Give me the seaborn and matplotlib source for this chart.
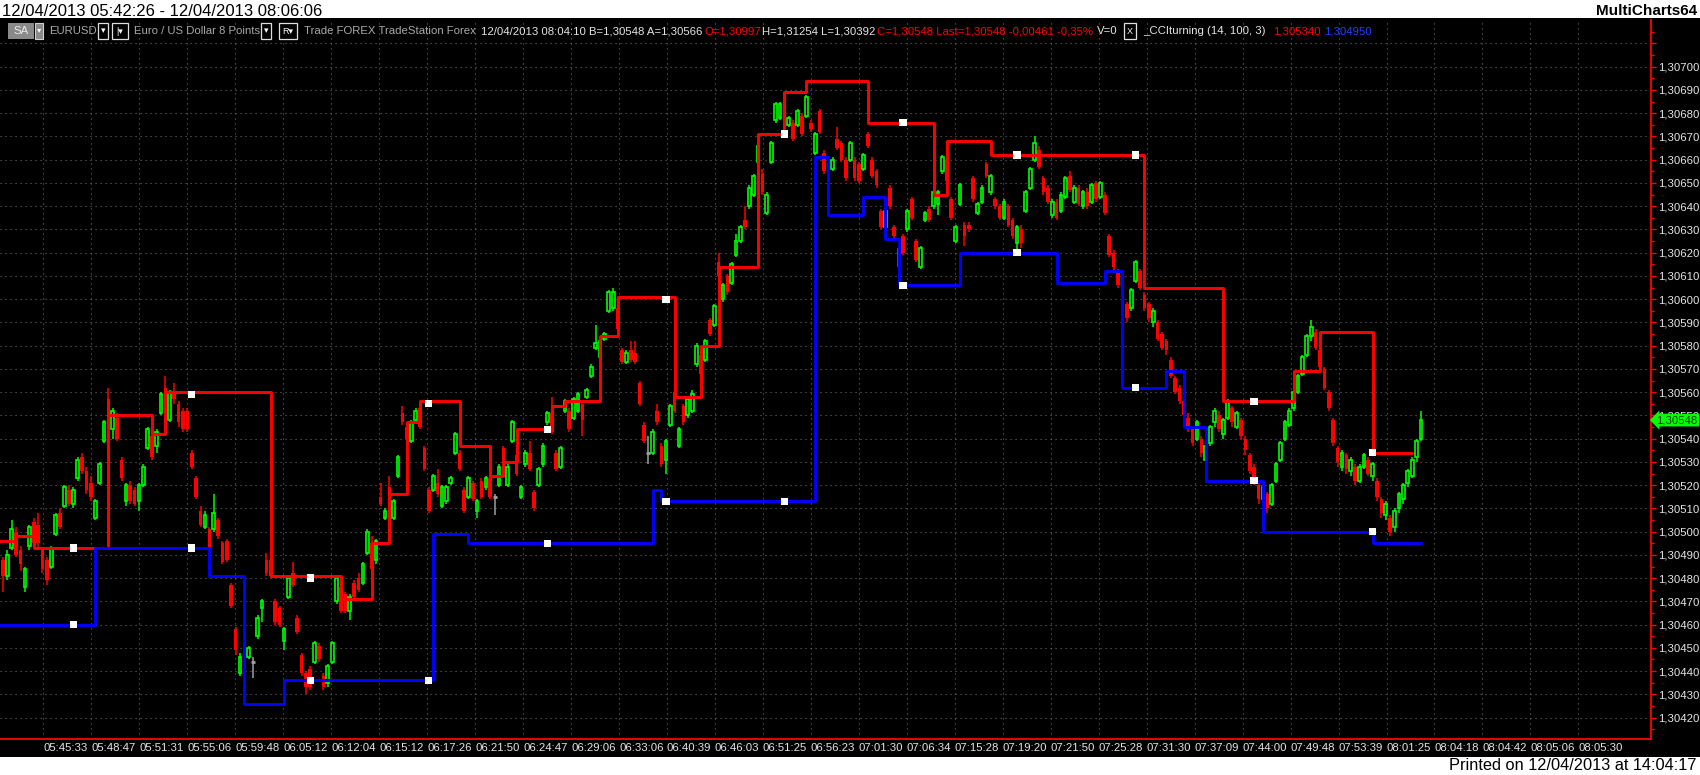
import matplotlib
matplotlib.use('Agg')
import matplotlib.pyplot as plt
from matplotlib.patches import Rectangle
import seaborn as sns
import pandas as pd
import numpy as np

sns.set_style('ticks')
plt.rcParams['font.family'] = ['Liberation Sans', 'DejaVu Sans']

# EURUSD 8 Points bars, prices as 1e-5 steps above 1.30000
bar_open = [
    488, 481, 493, 500, 492, 476, 494, 504, 503, 492,
    488, 485, 499, 508, 511, 518, 512, 523, 532, 526,
    521, 506, 521, 539, 557, 544, 549, 531, 513, 520,
    518, 513, 520, 536, 541, 537, 551, 562, 548, 560,
    555, 552, 552, 534, 523, 509, 502, 501, 501, 505,
    495, 496, 477, 458, 439, 448, 446, 444, 455, 467,
    488, 488, 470, 467, 453, 472, 482, 463, 447, 439,
    441, 444, 451, 438, 435, 444, 470, 476, 473, 466,
    478, 480, 478, 491, 495, 488, 515, 506, 519, 506,
    524, 551, 545, 539, 548, 553, 536, 518, 518, 521,
    511, 513, 521, 534, 534, 518, 515, 521, 509, 522,
    519, 523, 515, 520, 536, 520, 539, 533, 515, 529,
    534, 517, 520, 529, 547, 551, 534, 528, 552, 552,
    549, 552, 555, 558, 567, 579, 575, 583, 595, 596,
    596, 578, 573, 578, 577, 564, 546, 534, 534, 552,
    537, 531, 546, 560, 537, 554, 550, 552, 572, 576,
    574, 591, 589, 616, 600, 610, 607, 619, 625, 634,
    640, 645, 659, 654, 637, 659, 677, 678, 685, 675,
    676, 675, 679, 679, 676, 663, 681, 663, 648, 656,
    669, 667, 660, 660, 660, 658, 656, 671, 660, 655,
    638, 631, 648, 631, 622, 627, 630, 643, 625, 614,
    634, 639, 640, 641, 655, 660, 643, 625, 641, 632,
    632, 652, 637, 642, 658, 646, 643, 640, 635, 640,
    634, 624, 630, 638, 648, 660, 664, 652, 648, 636,
    642, 638, 644, 653, 642, 648, 640, 646, 642, 650,
    644, 645, 627, 620, 612, 610, 598, 596, 608, 612,
    602, 598, 590, 590, 585, 582, 574, 566, 562, 556,
    549, 544, 540, 540, 531, 538, 547, 550, 542, 549,
    553, 545, 548, 540, 533, 528, 520, 514, 516, 512,
    522, 531, 540, 546, 553, 560, 568, 576, 584, 586,
    578, 570, 560, 548, 536, 528, 533, 526, 528, 522,
    528, 531, 524, 522, 514, 507, 506, 502, 510, 514,
    521, 524, 532, 540,
]
bar_close = [
    481, 490, 501, 490, 486, 484, 502, 495, 495, 484,
    479, 493, 507, 502, 519, 512, 518, 531, 526, 518,
    515, 513, 529, 547, 549, 552, 540, 523, 520, 513,
    512, 520, 528, 544, 532, 543, 559, 558, 560, 557,
    547, 544, 544, 528, 515, 503, 507, 493, 508, 498,
    487, 488, 468, 449, 446, 442, 450, 444, 463, 470,
    482, 481, 461, 460, 458, 480, 477, 457, 439, 433,
    433, 452, 445, 433, 442, 452, 480, 466, 466, 472,
    472, 475, 486, 500, 484, 496, 512, 509, 515, 513,
    532, 547, 540, 547, 552, 545, 527, 509, 524, 516,
    519, 519, 523, 542, 527, 509, 523, 514, 513, 515,
    523, 515, 515, 528, 530, 528, 547, 525, 519, 534,
    527, 510, 527, 537, 551, 543, 527, 536, 556, 544,
    557, 559, 548, 561, 571, 581, 582, 585, 603, 603,
    587, 573, 577, 574, 573, 555, 539, 534, 543, 547,
    529, 539, 554, 552, 544, 547, 557, 559, 580, 568,
    582, 585, 597, 610, 606, 603, 615, 625, 631, 631,
    648, 653, 666, 646, 645, 667, 684, 684, 679, 678,
    669, 681, 671, 687, 673, 671, 672, 655, 640, 660,
    665, 660, 652, 667, 652, 651, 662, 666, 653, 649,
    631, 638, 640, 627, 614, 620, 638, 635, 617, 622,
    637, 634, 646, 646, 661, 651, 635, 631, 649, 627,
    630, 643, 641, 648, 653, 653, 640, 635, 642, 632,
    627, 631, 624, 646, 656, 667, 657, 646, 642, 642,
    635, 645, 652, 647, 648, 641, 646, 640, 649, 643,
    650, 637, 619, 614, 606, 603, 592, 604, 616, 605,
    596, 592, 595, 583, 579, 578, 567, 560, 556, 550,
    545, 538, 547, 534, 537, 545, 552, 544, 548, 556,
    547, 551, 541, 535, 526, 522, 514, 519, 510, 520,
    529, 538, 547, 552, 560, 567, 575, 584, 588, 579,
    571, 562, 553, 538, 530, 534, 527, 531, 522, 528,
    533, 525, 529, 515, 508, 512, 500, 509, 516, 520,
    526, 531, 539, 548,
]
bar_high = [
    489, 492, 505, 502, 494, 485, 503, 506, 508, 493,
    489, 494, 508, 510, 520, 520, 519, 532, 534, 528,
    524, 514, 530, 548, 562, 553, 551, 532, 521, 522,
    519, 521, 529, 545, 542, 544, 560, 567, 561, 564,
    556, 553, 553, 535, 524, 511, 509, 502, 516, 506,
    496, 497, 478, 459, 448, 449, 451, 446, 464, 471,
    491, 489, 471, 468, 459, 481, 487, 464, 448, 440,
    442, 453, 452, 439, 443, 453, 481, 478, 474, 473,
    479, 482, 487, 501, 498, 497, 521, 510, 524, 514,
    533, 554, 546, 548, 553, 556, 537, 519, 525, 527,
    520, 520, 524, 543, 535, 519, 524, 522, 514, 523,
    524, 524, 516, 529, 537, 529, 548, 534, 520, 535,
    539, 518, 528, 538, 552, 558, 535, 537, 557, 553,
    558, 560, 556, 562, 572, 589, 583, 586, 604, 605,
    597, 579, 578, 582, 582, 565, 547, 541, 544, 555,
    538, 540, 555, 561, 545, 555, 558, 561, 581, 578,
    583, 592, 598, 620, 607, 611, 616, 628, 632, 640,
    649, 654, 667, 656, 646, 668, 685, 685, 689, 679,
    677, 682, 680, 688, 677, 672, 682, 664, 649, 661,
    674, 668, 661, 668, 661, 659, 663, 672, 661, 656,
    639, 639, 649, 632, 623, 628, 639, 644, 626, 623,
    638, 640, 647, 647, 662, 668, 644, 632, 650, 633,
    633, 653, 642, 649, 659, 654, 644, 641, 643, 641,
    635, 632, 632, 647, 657, 670, 666, 653, 649, 643,
    643, 646, 653, 655, 649, 649, 647, 648, 650, 651,
    651, 646, 628, 621, 613, 611, 599, 605, 617, 613,
    603, 599, 596, 591, 586, 583, 575, 567, 563, 557,
    551, 545, 548, 541, 538, 546, 553, 552, 549, 557,
    554, 552, 549, 541, 534, 529, 521, 520, 517, 521,
    530, 539, 548, 553, 561, 568, 576, 585, 591, 587,
    579, 571, 561, 549, 537, 535, 534, 532, 529, 529,
    534, 532, 530, 523, 515, 513, 507, 510, 517, 521,
    527, 532, 540, 552,
]
bar_low = [
    474, 479, 492, 489, 483, 474, 492, 494, 493, 482,
    477, 484, 498, 501, 510, 511, 510, 522, 525, 516,
    513, 505, 520, 538, 548, 540, 539, 522, 511, 512,
    511, 509, 519, 535, 531, 534, 550, 557, 547, 555,
    545, 543, 543, 527, 514, 502, 501, 492, 500, 497,
    486, 487, 467, 447, 438, 441, 445, 437, 454, 461,
    481, 480, 460, 459, 449, 471, 476, 456, 438, 430,
    432, 443, 444, 432, 433, 443, 469, 465, 465, 462,
    471, 474, 477, 490, 483, 486, 511, 505, 514, 505,
    523, 546, 539, 538, 547, 544, 526, 508, 517, 515,
    510, 512, 520, 533, 526, 508, 514, 513, 506, 514,
    518, 514, 507, 519, 529, 519, 538, 524, 514, 528,
    526, 509, 519, 528, 546, 542, 526, 527, 551, 543,
    548, 551, 541, 557, 566, 578, 574, 582, 594, 595,
    586, 572, 572, 573, 572, 554, 538, 529, 533, 546,
    528, 525, 545, 551, 536, 546, 549, 551, 571, 567,
    573, 584, 588, 609, 599, 602, 606, 618, 624, 630,
    639, 644, 658, 645, 636, 658, 676, 677, 677, 674,
    668, 674, 670, 678, 672, 662, 671, 654, 639, 655,
    664, 659, 651, 659, 651, 650, 655, 665, 652, 648,
    630, 630, 639, 626, 613, 619, 629, 634, 616, 613,
    633, 633, 639, 636, 654, 650, 634, 624, 640, 623,
    629, 642, 636, 641, 652, 645, 639, 634, 634, 631,
    626, 621, 622, 637, 647, 659, 656, 645, 641, 635,
    634, 637, 643, 646, 641, 640, 639, 639, 641, 642,
    643, 636, 618, 612, 605, 602, 590, 595, 607, 604,
    595, 590, 588, 582, 578, 576, 566, 559, 555, 549,
    543, 537, 539, 532, 529, 537, 545, 543, 540, 548,
    545, 544, 540, 533, 525, 520, 512, 511, 508, 511,
    521, 530, 539, 545, 552, 559, 567, 575, 582, 578,
    570, 561, 552, 537, 528, 526, 525, 524, 520, 521,
    527, 524, 522, 513, 506, 505, 498, 500, 508, 512,
    519, 523, 530, 539,
]

# _CCIturning (14, 100, 3): bar where each level starts, and the level
red_start = [-1, 3, 7, 24, 34, 37, 61, 77, 84, 88,
             92, 95, 104, 111, 114, 117, 125, 128, 136, 140,
             153, 159, 163, 172, 178, 183, 197, 212, 215, 225,
             260, 278, 294, 300, 312]
red_level = [496, 498, 493, 550, 542, 560, 481, 471, 495, 516,
             547, 556, 537, 524, 530, 544, 554, 556, 584, 601,
             558, 580, 614, 671, 689, 694, 676, 645, 668, 662,
             605, 556, 569, 586, 534]
red_end = 321
blue_start = [-1, 21, 47, 55, 64, 98, 106, 148, 150, 185,
              188, 196, 201, 204, 218, 240, 251, 255, 265, 269,
              274, 287, 312]
blue_level = [460, 493, 481, 426, 436, 499, 495, 518, 513, 661,
              636, 644, 626, 606, 620, 607, 612, 562, 569, 545,
              522, 500, 495]
blue_end = 323

# white square markers
mark_bar = [16, 43, 70, 97, 124, 151, 178, 205, 231, 258, 285, 312]
mark_red = [493, 559, 480, 555, 544, 600, 671, 676, 662, 662, 556, 534]
mark_blue = [460, 493, 436, 436, 495, 513, 513, 606, 620, 562, 522, 500]

time_labels = ['05:45:33', '05:48:47', '05:51:31', '05:55:06', '05:59:48', '06:05:12',
               '06:12:04', '06:15:12', '06:17:26', '06:21:50', '06:24:47', '06:29:06',
               '06:33:06', '06:40:39', '06:46:03', '06:51:25', '06:56:23', '07:01:30',
               '07:06:34', '07:15:28', '07:19:20', '07:21:50', '07:25:28', '07:31:30',
               '07:37:09', '07:44:00', '07:49:48', '07:53:39', '08:01:25', '08:04:18',
               '08:04:42', '08:05:06', '08:05:30']
last_price = 548


def to_price(v):
    return 1.3 + np.asarray(v, dtype=float) / 1e5


n = min(len(bar_open), len(bar_close), len(bar_high), len(bar_low))
df = pd.DataFrame({'bar': np.arange(n),
                   'o': to_price(bar_open[:n]), 'c': to_price(bar_close[:n]),
                   'h': to_price(bar_high[:n]), 'l': to_price(bar_low[:n])})

GREEN = '#00ff00'
RED = '#ff0000'
BLUE = '#0000ff'
TXT = '#e4e4e4'
FS = 8.2

fig = plt.figure(figsize=(17, 7.75), dpi=100, facecolor='white')
fig.patches.append(Rectangle((0, 18 / 775), 1, 739 / 775, transform=fig.transFigure,
                             facecolor='black', edgecolor='none', zorder=-5))
ax = fig.add_axes([0, 36 / 775, 1651 / 1700, 719 / 775])
ax.set_facecolor('black')

# candles
wick_col = np.where(df.c > df.o, GREEN, np.where(df.c < df.o, RED, '#a0a0a0'))
ax.vlines(df.bar, df.l, df.h, colors=wick_col, linewidth=1.1, zorder=2)
up = df[df.c > df.o]
ax.bar(up.bar, up.c - up.o, bottom=up.o, width=0.62, facecolor='black',
       edgecolor=GREEN, linewidth=1.2, zorder=3)
dn = df[df.c < df.o]
ax.bar(dn.bar, dn.o - dn.c, bottom=dn.c, width=0.82, color=RED, linewidth=0, zorder=3)
dj = df[df.c == df.o]
ax.hlines(dj.c, dj.bar - 0.45, dj.bar + 0.45, colors='#a0a0a0', linewidth=2, zorder=3)

# indicator steps
sns.lineplot(x=red_start + [red_end], y=to_price(red_level + [red_level[-1]]),
             drawstyle='steps-post', color=RED, linewidth=2.1, sort=False,
             estimator=None, ax=ax, zorder=4, legend=False)
sns.lineplot(x=blue_start + [blue_end], y=to_price(blue_level + [blue_level[-1]]),
             drawstyle='steps-post', color=BLUE, linewidth=2.1, sort=False,
             estimator=None, ax=ax, zorder=5, legend=False)
sns.scatterplot(x=mark_bar + mark_bar, y=to_price(mark_red + mark_blue), marker='s',
                color='white', s=28, edgecolor='none', ax=ax, zorder=6, legend=False)

# axes
ax.set_xlim(-0.68, 375.4)
ax.set_ylim(to_price(410.8), to_price(720.1))
xt = 9.2 + 10.927 * np.arange(len(time_labels))
ax.set_xticks(xt)
ax.set_xticklabels(time_labels, ha='left')
ax.tick_params(axis='x', length=0, pad=3, labelsize=FS, labelcolor=TXT)

yt = np.arange(420, 711, 10)
ax.yaxis.tick_right()
ax.set_yticks(to_price(yt))
ax.set_yticklabels(['' if v > 700 else '1,30%03d' % v for v in yt])
ax.set_yticks(to_price(np.arange(415, 716, 10)), minor=True)
ax.tick_params(axis='y', which='major', colors=RED, labelcolor=TXT, length=3.5,
               width=1, labelsize=FS, pad=1.5)
ax.tick_params(axis='y', which='minor', colors=RED, length=2, width=1)
ax.grid(True, which='major', color='#6a6a6a', linestyle=(0, (1, 3.5)), linewidth=0.8)
ax.set_axisbelow(True)
for s in ['top', 'left']:
    ax.spines[s].set_visible(False)
for s in ['right', 'bottom']:
    ax.spines[s].set_color(RED)
    ax.spines[s].set_linewidth(1.3)

ax.annotate('1,30%03d' % last_price, xy=(1, to_price(last_price)),
            xycoords=('axes fraction', 'data'), xytext=(4, 0), textcoords='offset points',
            ha='left', va='center', color='#003a00', fontsize=FS, annotation_clip=False,
            bbox=dict(boxstyle='larrow,pad=0.12', fc=GREEN, ec='none'))

# header / footer overlay in pixel coordinates
ov = fig.add_axes([0, 0, 1, 1], zorder=10)
ov.set_xlim(0, 1700)
ov.set_ylim(775, 0)
ov.axis('off')
ov.patch.set_alpha(0)

ov.text(2, 11, '12/04/2013 05:42:26 - 12/04/2013 08:06:06', ha='left', va='center',
        fontsize=12, color='black')
ov.text(1697, 11, 'MultiCharts64', ha='right', va='center', fontsize=11,
        fontweight='bold', color='black')
ov.text(1697, 766, 'Printed on 12/04/2013 at 14:04:17', ha='right', va='center',
        fontsize=11.8, color='black')

sy = 31
ov.add_patch(Rectangle((8, 23), 26, 16, fc='#8a8a8a', ec='none'))
ov.text(21, sy, 'SA', ha='center', va='center', fontsize=FS, color='#ececec')
ov.add_patch(Rectangle((35, 23), 8, 16, fc='#8a8a8a', ec='#d0d0d0', lw=0.8))
ov.text(39, sy, '▾', ha='center', va='center', fontsize=6, color='white')
for bx, bw, lab in [(98, 10, '▾'), (112, 16, '|▾'), (261, 10, '▾'),
                    (279, 18, 'R▾'), (1124, 12, 'X')]:
    ov.add_patch(Rectangle((bx, 23), bw, 16, fc='black', ec='#e0e0e0', lw=0.9))
    ov.text(bx + bw / 2, sy, lab, ha='center', va='center', fontsize=6.5, color='white')

status = [
    (49, 'EURUSD', '#a8a8a8'),
    (134, 'Euro / US Dollar 8 Points', '#a8a8a8'),
    (304, 'Trade FOREX TradeStation Forex', '#a8a8a8'),
    (481, '12/04/2013 08:04:10 B=1,30548 A=1,30566', TXT),
    (705, 'O=1,30997', RED),
    (762, 'H=1,31254 L=1,30392', TXT),
    (877, 'C=1,30548 Last=1,30548 -0,00461 -0,35%', RED),
    (1097, 'V=0', TXT),
    (1143, '_CCIturning (14, 100, 3)', TXT),
    (1273, '1,305340', RED),
    (1324, '1,304950', '#2040ff'),
]
for sx, lab, col in status:
    ov.text(sx, sy, lab, ha='left', va='center', fontsize=FS, color=col)

fig.savefig('out.png', dpi=100, facecolor='white')
